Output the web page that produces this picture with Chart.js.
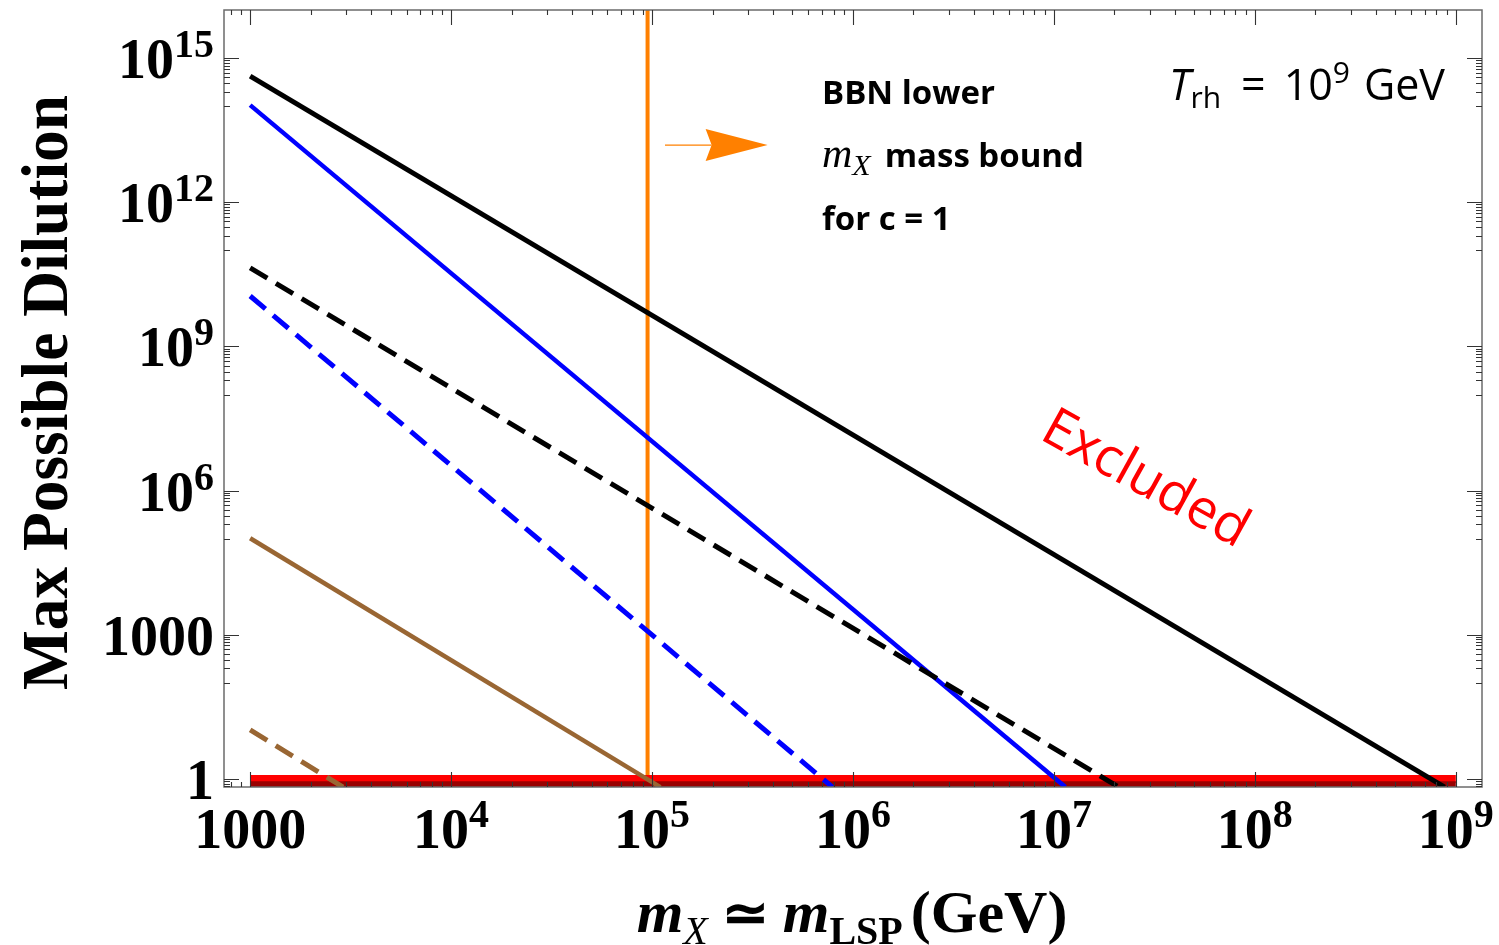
<!DOCTYPE html>
<html>
<head>
<meta charset="utf-8">
<script src="https://cdn.jsdelivr.net/npm/chart.js@4.4.0/dist/chart.umd.min.js"></script>
<style>
  html, body { margin: 0; padding: 0; background: #ffffff; }
  #wrap { width: 1499px; height: 945px; }
</style>
</head>
<body>
<div id="wrap"><canvas id="c" width="1499" height="945"></canvas></div>
<script>
// Axis ranges (log-log)
const massRange = [741, 1.35e9];
const dilutionRange = [0.682, 1e16];

// Tick values and labels: [mantissa text, superscript]
const xMajor = [1e3, 1e4, 1e5, 1e6, 1e7, 1e8, 1e9];
const xTickLabels = [['1000', ''], ['10', '4'], ['10', '5'], ['10', '6'], ['10', '7'], ['10', '8'], ['10', '9']];
const yMajor = [1, 1e3, 1e6, 1e9, 1e12, 1e15];
const yTickLabels = [['1', ''], ['1000', ''], ['10', '6'], ['10', '9'], ['10', '12'], ['10', '15']];
const minorMultipliers = [2, 3, 4, 5, 6, 7, 8, 9];

// Dilution curves (end points of straight log-log segments)
const blackSolidX = [1e3, 8.8e8];
const blackSolidY = [4.2e14, 0.68];
const blueSolidX = [1e3, 1.14e7];
const blueSolidY = [1.05e14, 0.68];
const blackDashedX = [1e3, 2.1e7];
const blackDashedY = [4.3e10, 0.68];
const blueDashedX = [1e3, 7.9e5];
const blueDashedY = [1.12e10, 0.68];
const brownSolidX = [1e3, 1.1e5];
const brownSolidY = [1.02e5, 0.68];
const brownDashedX = [1e3, 2.9e3];
const brownDashedY = [10.5, 0.68];

// Excluded floor at dilution = 1, and its darker lower edge
const floorX = [1e3, 1e9];
const floorY = [1, 1];
const floorEdgeY = [0.778, 0.778];

// BBN lower mass bound (vertical) and the arrow pointing to allowed masses
const bbnX = [9.5e4, 9.5e4];
const bbnY = [1, 1e16];
const arrowX = [1.16e5, 3.76e5];
const arrowY = [1.55e13, 1.55e13];

const SERIF = '"Liberation Serif", "Times New Roman", serif';
const SANS = '"Open Sans", "Noto Sans", sans-serif';
const BROWN = '#996633';
const ORANGE = '#ff8000';

const pts = (xs, ys) => xs.map((x, i) => ({ x: x, y: ys[i] }));

function line(data, color, width, dash, order) {
  return {
    data: data, borderColor: color, borderWidth: width, borderDash: dash || [],
    pointRadius: 0, fill: false, tension: 0, clip: 0, order: order,
    borderCapStyle: 'butt'
  };
}

function richWidth(ctx, parts) {
  let w = 0;
  for (const p of parts) { ctx.font = p.font; w += (p.gap || 0) + ctx.measureText(p.text).width; }
  return w;
}

function drawRich(ctx, parts, x, y, align) {
  const w = richWidth(ctx, parts);
  let cx = align === 'center' ? x - w / 2 : align === 'right' ? x - w : x;
  ctx.textAlign = 'left';
  ctx.textBaseline = 'alphabetic';
  for (const p of parts) {
    ctx.font = p.font;
    cx += (p.gap || 0);
    ctx.fillText(p.text, cx, y + (p.dy || 0));
    cx += ctx.measureText(p.text).width;
  }
}

const frameAndLabels = {
  id: 'frameAndLabels',
  afterDatasetsDraw(chart) {
    const ctx = chart.ctx;
    const xs = chart.scales.x, ys = chart.scales.y;
    const a = chart.chartArea;
    ctx.save();

    // Arrow from the BBN bound towards heavier masses
    const ax0 = xs.getPixelForValue(arrowX[0]), ax1 = xs.getPixelForValue(arrowX[1]);
    const ay = ys.getPixelForValue(arrowY[0]);
    const headLen = 62, headHalf = 16, notch = 6;
    ctx.strokeStyle = ORANGE; ctx.fillStyle = ORANGE; ctx.lineWidth = 1.3;
    ctx.beginPath(); ctx.moveTo(ax0, ay); ctx.lineTo(ax1 - headLen + notch, ay); ctx.stroke();
    ctx.beginPath();
    ctx.moveTo(ax1, ay);
    ctx.lineTo(ax1 - headLen, ay - headHalf);
    ctx.lineTo(ax1 - headLen + notch, ay);
    ctx.lineTo(ax1 - headLen, ay + headHalf);
    ctx.closePath(); ctx.fill();

    // Frame
    ctx.strokeStyle = '#6b6b6b'; ctx.lineWidth = 1.5;
    ctx.strokeRect(a.left, a.top, a.right - a.left, a.bottom - a.top);

    // Ticks on all four sides
    ctx.strokeStyle = '#333333'; ctx.lineWidth = 1.1;
    const major = 15, minor = 5;
    const xMinor = [];
    for (let d = 100; d <= 1e9; d *= 10) {
      for (const k of minorMultipliers) {
        const v = k * d;
        if (v > massRange[0] && v < massRange[1]) xMinor.push(v);
      }
    }
    const yMinor = [];
    for (const m of yMajor) {
      for (let k = 1; k <= 9; k++) {
        const v = k * m / 10;
        if (v > dilutionRange[0] && v < dilutionRange[1]) yMinor.push(v);
      }
    }
    ctx.beginPath();
    for (const v of xMajor) {
      const px = Math.round(xs.getPixelForValue(v)) + 0.5;
      ctx.moveTo(px, a.bottom); ctx.lineTo(px, a.bottom - major);
      ctx.moveTo(px, a.top); ctx.lineTo(px, a.top + major);
    }
    for (const v of xMinor) {
      const px = Math.round(xs.getPixelForValue(v)) + 0.5;
      ctx.moveTo(px, a.bottom); ctx.lineTo(px, a.bottom - minor);
      ctx.moveTo(px, a.top); ctx.lineTo(px, a.top + minor);
    }
    for (const v of yMajor) {
      const py = Math.round(ys.getPixelForValue(v)) + 0.5;
      ctx.moveTo(a.left, py); ctx.lineTo(a.left + major, py);
      ctx.moveTo(a.right, py); ctx.lineTo(a.right - major, py);
    }
    for (const v of yMinor) {
      const py = Math.round(ys.getPixelForValue(v)) + 0.5;
      ctx.moveTo(a.left, py); ctx.lineTo(a.left + minor + 1, py);
      ctx.moveTo(a.right, py); ctx.lineTo(a.right - minor - 1, py);
    }
    ctx.stroke();

    // Tick labels
    ctx.fillStyle = '#000000';
    const big = `bold 56px ${SERIF}`, sup = `bold 40px ${SERIF}`;
    xMajor.forEach((v, i) => {
      const [m, e] = xTickLabels[i];
      const parts = [{ text: m, font: big }];
      if (e) parts.push({ text: e, font: sup, dy: -21 });
      drawRich(ctx, parts, xs.getPixelForValue(v), 848, 'center');
    });
    yMajor.forEach((v, i) => {
      const [m, e] = yTickLabels[i];
      const parts = [{ text: m, font: big }];
      if (e) parts.push({ text: e, font: sup, dy: -21 });
      drawRich(ctx, parts, 214, ys.getPixelForValue(v) + 20, 'right');
    });

    // Axis titles
    drawRich(ctx, [
      { text: 'm', font: `italic bold 60px ${SERIF}` },
      { text: 'X', font: `italic 40px ${SERIF}`, dy: 12 },
      { text: '\u2243', font: `bold 56px ${SERIF}`, gap: 14 },
      { text: 'm', font: `italic bold 60px ${SERIF}`, gap: 14 },
      { text: 'LSP', font: `bold 40px ${SERIF}`, dy: 12 },
      { text: '(GeV)', font: `bold 60px ${SERIF}`, gap: 8 }
    ], 852, 932, 'center');

    ctx.save();
    ctx.translate(67, 392.5);
    ctx.rotate(-Math.PI / 2);
    ctx.font = `bold 66px ${SERIF}`;
    const yTitle = 'Max Possible Dilution';
    const tw = ctx.measureText(yTitle).width;
    ctx.scale(595 / tw, 1);
    ctx.textAlign = 'center'; ctx.textBaseline = 'alphabetic';
    ctx.fillText(yTitle, 0, 0);
    ctx.restore();

    // Annotations
    ctx.fillStyle = '#000000';
    const note = `bold 33px ${SANS}`;
    drawRich(ctx, [{ text: 'BBN lower', font: note }], 822, 104, 'left');
    drawRich(ctx, [
      { text: 'm', font: `italic 42px ${SERIF}` },
      { text: 'X', font: `italic 30px ${SERIF}`, dy: 8 },
      { text: 'mass bound', font: note, gap: 14 }
    ], 822, 167, 'left');
    drawRich(ctx, [{ text: 'for c = 1', font: note }], 822, 230, 'left');

    drawRich(ctx, [
      { text: 'T', font: `italic 43px ${SANS}` },
      { text: 'rh', font: `30px ${SANS}`, dy: 8 },
      { text: '=', font: `43px ${SANS}`, gap: 20 },
      { text: '10', font: `43px ${SANS}`, gap: 18 },
      { text: '9', font: `30px ${SANS}`, dy: -17 },
      { text: 'GeV', font: `43px ${SANS}`, gap: 14 }
    ], 1445, 100, 'right');

    ctx.save();
    ctx.translate(1145, 480);
    ctx.rotate(29 * Math.PI / 180);
    ctx.fillStyle = '#ff0000';
    ctx.font = `54px ${SANS}`;
    ctx.textAlign = 'center'; ctx.textBaseline = 'middle';
    ctx.fillText('Excluded', 0, 0);
    ctx.restore();

    ctx.restore();
  }
};

new Chart(document.getElementById('c'), {
  type: 'line',
  data: {
    datasets: [
      line(pts(floorX, floorY), '#ff0000', 8, null, 10),
      line(pts(floorX, floorEdgeY), '#990000', 6, null, 9),
      line(pts(bbnX, bbnY), ORANGE, 4, null, 11),
      line(pts(brownDashedX, brownDashedY), BROWN, 5, [20, 10], 1),
      line(pts(brownSolidX, brownSolidY), BROWN, 4.5, null, 1),
      line(pts(blueDashedX, blueDashedY), '#0000ff', 5, [20, 10], 1),
      line(pts(blackDashedX, blackDashedY), '#000000', 5, [20, 10], 1),
      line(pts(blueSolidX, blueSolidY), '#0000ff', 4.5, null, 1),
      line(pts(blackSolidX, blackSolidY), '#000000', 5, null, 1)
    ]
  },
  options: {
    responsive: false,
    devicePixelRatio: 1,
    animation: false,
    events: [],
    layout: { padding: { left: 224, top: 10, right: 17, bottom: 158 } },
    plugins: { legend: { display: false }, tooltip: { enabled: false } },
    scales: {
      x: { type: 'logarithmic', min: massRange[0], max: massRange[1], display: false },
      y: { type: 'logarithmic', min: dilutionRange[0], max: dilutionRange[1], display: false }
    }
  },
  plugins: [frameAndLabels]
});
</script>
</body>
</html>
